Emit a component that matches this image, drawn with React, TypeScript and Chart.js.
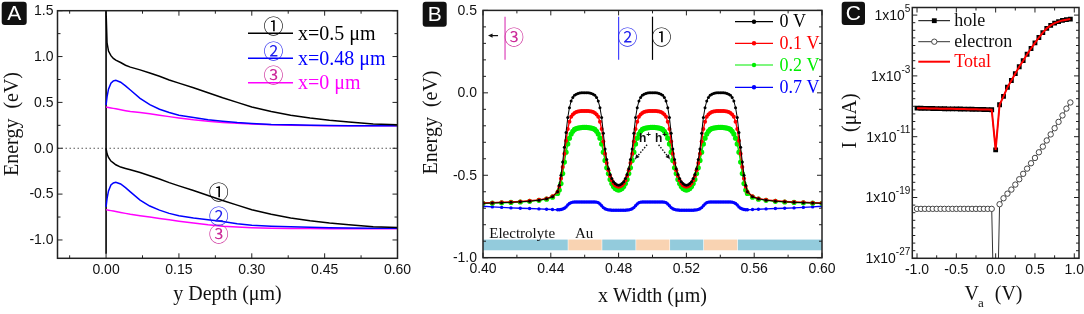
import React, { useEffect, useRef } from 'react';
import { Chart, registerables } from 'chart.js';
Chart.register(...registerables);

const SANS = '"Liberation Sans", Arial, Helvetica, sans-serif';
const SERIF = '"Liberation Serif", "Times New Roman", Times, serif';
const CIRC = '"Noto Sans CJK JP", "DejaVu Sans", sans-serif';

// ---------------- Panel A data ----------------
const yDepth = [0, 0.002, 0.005, 0.01, 0.015, 0.02, 0.03, 0.04, 0.05, 0.07, 0.09, 0.11, 0.13, 0.15, 0.18, 0.21, 0.24, 0.27, 0.3, 0.34, 0.38, 0.42, 0.46, 0.5, 0.55, 0.6];
const cbX05 = [1.5, 1.15, 1.06, 1.01, 0.98, 0.96, 0.935, 0.905, 0.885, 0.855, 0.82, 0.785, 0.745, 0.71, 0.66, 0.605, 0.55, 0.5, 0.45, 0.4, 0.36, 0.33, 0.305, 0.285, 0.265, 0.255];
const vbX05 = [0.0, -0.06, -0.1, -0.14, -0.16, -0.18, -0.205, -0.22, -0.235, -0.265, -0.3, -0.335, -0.375, -0.41, -0.46, -0.515, -0.57, -0.62, -0.67, -0.72, -0.76, -0.79, -0.815, -0.835, -0.855, -0.865];
const cbX048 = [0.47, 0.56, 0.645, 0.71, 0.735, 0.74, 0.72, 0.68, 0.635, 0.545, 0.475, 0.425, 0.39, 0.36, 0.335, 0.31, 0.295, 0.28, 0.27, 0.26, 0.255, 0.25, 0.248, 0.246, 0.245, 0.245];
const vbX048 = [-0.64, -0.55, -0.465, -0.4, -0.378, -0.372, -0.39, -0.43, -0.475, -0.565, -0.63, -0.675, -0.71, -0.735, -0.76, -0.78, -0.8, -0.823, -0.84, -0.85, -0.857, -0.862, -0.866, -0.869, -0.871, -0.872];
const cbX0 = [0.45, 0.448, 0.445, 0.44, 0.435, 0.43, 0.42, 0.41, 0.4, 0.39, 0.375, 0.36, 0.345, 0.33, 0.31, 0.295, 0.282, 0.272, 0.264, 0.256, 0.251, 0.248, 0.246, 0.245, 0.245, 0.245];
const vbX0 = [-0.67, -0.672, -0.675, -0.68, -0.685, -0.69, -0.7, -0.71, -0.72, -0.735, -0.75, -0.765, -0.78, -0.795, -0.815, -0.835, -0.85, -0.86, -0.867, -0.872, -0.875, -0.876, -0.877, -0.877, -0.877, -0.877];
const interfaceY = [0, 0];
const interfaceE = [-1.15, 1.5];
const zeroLineY = [-0.1, 0.6];
const zeroLineE = [0, 0];
const aXMajor = [0, 0.15, 0.3, 0.45, 0.6];
const aXMinor = [-0.075, 0.075, 0.225, 0.375, 0.525];
const aYMajor = [-1, -0.5, 0, 0.5, 1, 1.5];
const aYMinor = [-0.75, -0.25, 0.25, 0.75, 1.25];
const aLegendText = ['x=0.5 \u03bcm', 'x=0.48 \u03bcm', 'x=0 \u03bcm'];
const circled = ['\u2460', '\u2461', '\u2462'];
const aTagY = [0.232, 0.232, 0.232];
const aTagE = [-0.485, -0.739, -0.938];

// ---------------- Panel B data ----------------
const xWidth = [0.4, 0.4055, 0.411, 0.4165, 0.422, 0.4275, 0.433, 0.4375, 0.441,
  0.444, 0.445, 0.446, 0.447, 0.448, 0.449,
  0.45, 0.451, 0.452, 0.453, 0.454, 0.455, 0.456, 0.457, 0.458, 0.459, 0.46,
  0.461, 0.462, 0.463, 0.464, 0.465, 0.466, 0.467, 0.468, 0.469, 0.47,
  0.471, 0.472, 0.473, 0.474, 0.475, 0.476, 0.477, 0.478, 0.479, 0.48,
  0.481, 0.482, 0.483, 0.484, 0.485, 0.486, 0.487, 0.488, 0.489, 0.49,
  0.491, 0.492, 0.493, 0.494, 0.495, 0.496, 0.497, 0.498, 0.499, 0.5,
  0.501, 0.502, 0.503, 0.504, 0.505, 0.506, 0.507, 0.508, 0.509, 0.51,
  0.511, 0.512, 0.513, 0.514, 0.515, 0.516, 0.517, 0.518, 0.519, 0.52,
  0.521, 0.522, 0.523, 0.524, 0.525, 0.526, 0.527, 0.528, 0.529, 0.53,
  0.531, 0.532, 0.533, 0.534, 0.535, 0.536, 0.537, 0.538, 0.539, 0.54,
  0.541, 0.542, 0.543, 0.544, 0.545, 0.546, 0.547, 0.548, 0.549, 0.55,
  0.551, 0.552, 0.553, 0.554, 0.555, 0.556,
  0.559, 0.5625, 0.567, 0.5725, 0.578, 0.5835, 0.589, 0.5945, 0.6];
const e0V = [-0.67, -0.668, -0.666, -0.664, -0.661, -0.657, -0.651, -0.643, -0.63,
  -0.6, -0.56, -0.5, -0.42, -0.33, -0.24,
  -0.15, -0.09, -0.05, -0.028, -0.015, -0.008, -0.004, -0.001, 0, 0, 0,
  0, 0, -0.001, -0.004, -0.008, -0.015, -0.028, -0.05, -0.09, -0.15,
  -0.245, -0.34, -0.405, -0.46, -0.495, -0.52, -0.54, -0.55, -0.557, -0.56,
  -0.557, -0.55, -0.54, -0.52, -0.495, -0.46, -0.405, -0.34, -0.245, -0.15,
  -0.09, -0.05, -0.028, -0.015, -0.008, -0.004, -0.001, 0, 0, 0,
  0, 0, -0.001, -0.004, -0.008, -0.015, -0.028, -0.05, -0.09, -0.15,
  -0.245, -0.34, -0.405, -0.46, -0.495, -0.52, -0.54, -0.55, -0.557, -0.56,
  -0.557, -0.55, -0.54, -0.52, -0.495, -0.46, -0.405, -0.34, -0.245, -0.15,
  -0.09, -0.05, -0.028, -0.015, -0.008, -0.004, -0.001, 0, 0, 0,
  0, 0, -0.001, -0.004, -0.008, -0.015, -0.028, -0.05, -0.09, -0.15,
  -0.24, -0.33, -0.42, -0.5, -0.56, -0.6,
  -0.63, -0.643, -0.651, -0.657, -0.661, -0.664, -0.666, -0.668, -0.67];
const e01V = [-0.668, -0.666, -0.664, -0.662, -0.659, -0.655, -0.649, -0.641, -0.628,
  -0.6, -0.57, -0.52, -0.45, -0.37, -0.29,
  -0.22, -0.175, -0.145, -0.131, -0.122, -0.117, -0.113, -0.111, -0.11, -0.11, -0.11,
  -0.11, -0.11, -0.111, -0.113, -0.117, -0.122, -0.131, -0.145, -0.175, -0.22,
  -0.295, -0.37, -0.425, -0.47, -0.505, -0.53, -0.548, -0.56, -0.567, -0.57,
  -0.567, -0.56, -0.548, -0.53, -0.505, -0.47, -0.425, -0.37, -0.295, -0.22,
  -0.175, -0.145, -0.131, -0.122, -0.117, -0.113, -0.111, -0.11, -0.11, -0.11,
  -0.11, -0.11, -0.111, -0.113, -0.117, -0.122, -0.131, -0.145, -0.175, -0.22,
  -0.295, -0.37, -0.425, -0.47, -0.505, -0.53, -0.548, -0.56, -0.567, -0.57,
  -0.567, -0.56, -0.548, -0.53, -0.505, -0.47, -0.425, -0.37, -0.295, -0.22,
  -0.175, -0.145, -0.131, -0.122, -0.117, -0.113, -0.111, -0.11, -0.11, -0.11,
  -0.11, -0.11, -0.111, -0.113, -0.117, -0.122, -0.131, -0.145, -0.175, -0.22,
  -0.29, -0.37, -0.45, -0.52, -0.57, -0.6,
  -0.628, -0.641, -0.649, -0.655, -0.659, -0.662, -0.664, -0.666, -0.668];
const e02V = [-0.67, -0.669, -0.667, -0.665, -0.662, -0.658, -0.652, -0.645, -0.633,
  -0.61, -0.59, -0.55, -0.49, -0.42, -0.36,
  -0.31, -0.275, -0.25, -0.233, -0.222, -0.217, -0.214, -0.212, -0.211, -0.21, -0.21,
  -0.21, -0.211, -0.212, -0.214, -0.217, -0.222, -0.233, -0.25, -0.275, -0.31,
  -0.36, -0.41, -0.455, -0.49, -0.525, -0.55, -0.568, -0.58, -0.587, -0.59,
  -0.587, -0.58, -0.568, -0.55, -0.525, -0.49, -0.455, -0.41, -0.36, -0.31,
  -0.275, -0.25, -0.233, -0.222, -0.217, -0.214, -0.212, -0.211, -0.21, -0.21,
  -0.21, -0.211, -0.212, -0.214, -0.217, -0.222, -0.233, -0.25, -0.275, -0.31,
  -0.36, -0.41, -0.455, -0.49, -0.525, -0.55, -0.568, -0.58, -0.587, -0.59,
  -0.587, -0.58, -0.568, -0.55, -0.525, -0.49, -0.455, -0.41, -0.36, -0.31,
  -0.275, -0.25, -0.233, -0.222, -0.217, -0.214, -0.212, -0.211, -0.21, -0.21,
  -0.21, -0.211, -0.212, -0.214, -0.217, -0.222, -0.233, -0.25, -0.275, -0.31,
  -0.36, -0.42, -0.49, -0.55, -0.59, -0.61,
  -0.633, -0.645, -0.652, -0.658, -0.662, -0.665, -0.667, -0.669, -0.67];
const e07V = [-0.688, -0.692, -0.695, -0.698, -0.7, -0.702, -0.704, -0.706, -0.708,
  -0.709, -0.709, -0.708, -0.705, -0.7, -0.692,
  -0.68, -0.671, -0.666, -0.663, -0.662, -0.662, -0.662, -0.662, -0.662, -0.662, -0.662,
  -0.662, -0.662, -0.662, -0.662, -0.662, -0.662, -0.663, -0.666, -0.674, -0.685,
  -0.696, -0.703, -0.707, -0.71, -0.711, -0.712, -0.712, -0.712, -0.712, -0.712,
  -0.712, -0.712, -0.712, -0.712, -0.711, -0.71, -0.707, -0.703, -0.696, -0.685,
  -0.674, -0.666, -0.663, -0.662, -0.662, -0.662, -0.662, -0.662, -0.662, -0.662,
  -0.662, -0.662, -0.662, -0.662, -0.662, -0.662, -0.663, -0.666, -0.674, -0.685,
  -0.696, -0.703, -0.707, -0.71, -0.711, -0.712, -0.712, -0.712, -0.712, -0.712,
  -0.712, -0.712, -0.712, -0.712, -0.711, -0.71, -0.707, -0.703, -0.696, -0.685,
  -0.674, -0.666, -0.663, -0.662, -0.662, -0.662, -0.662, -0.662, -0.662, -0.662,
  -0.662, -0.662, -0.662, -0.662, -0.662, -0.662, -0.663, -0.666, -0.671, -0.68,
  -0.692, -0.7, -0.705, -0.708, -0.709, -0.709,
  -0.708, -0.706, -0.704, -0.702, -0.7, -0.698, -0.695, -0.692, -0.688];
const biasLabels = ['0 V', '0.1 V', '0.2 V', '0.7 V'];
const biasColors = ['#000000', '#ff0000', '#00ee00', '#0000ff'];
const biasRadius = [1.5, 2.0, 2.6, 1.7];
const regionEdges = [0.4, 0.45, 0.47, 0.49, 0.51, 0.53, 0.55, 0.6];
const regionIsAu = [false, true, false, true, false, true, false];
const stripE = [-0.89, -0.955];
const regionNames = ['Electrolyte', 'Au'];
const regionNameX = [0.4037, 0.4543];
const regionNameE = -0.855;
const cutX = [0.413, 0.48, 0.5];
const cutE = [0.462, 0.2];
const cutTags = ['\u2462', '\u2461', '\u2460'];
const cutColors = ['#dd44bb', '#4444ff', '#000000'];
const cutTagColors = ['#cc2a99', '#2222ee', '#000000'];
const bXMajor = [0.4, 0.44, 0.48, 0.52, 0.56, 0.6];
const bXMinor = [0.42, 0.46, 0.5, 0.54, 0.58];
const bYMajor = [-1, -0.5, 0, 0.5];
const bYMinor = [-0.9, -0.8, -0.7, -0.6, -0.4, -0.3, -0.2, -0.1, 0.1, 0.2, 0.3, 0.4];
const holeTextX = 0.4997;
const holeTextE = -0.28;
const holeArrowFrom = [[0.4968, -0.315], [0.5036, -0.315]];
const holeArrowTo = [[0.4897, -0.402], [0.5103, -0.402]];

// ---------------- Panel C data ----------------
const va = [-1.0, -0.95, -0.9, -0.85, -0.8, -0.75, -0.7, -0.65, -0.6, -0.55, -0.5, -0.45, -0.4, -0.35, -0.3, -0.25, -0.2, -0.15, -0.1, -0.05,
  0.0, 0.05, 0.1, 0.15, 0.2, 0.25, 0.3, 0.35, 0.4, 0.45, 0.5, 0.55, 0.6, 0.65, 0.7, 0.75, 0.8, 0.85, 0.9, 0.95];
const iHole = [5.6e-8, 5.5e-8, 5.4e-8, 5.2e-8, 5.1e-8, 5.0e-8, 4.9e-8, 4.8e-8, 4.7e-8, 4.6e-8, 4.5e-8, 4.4e-8, 4.3e-8, 4.2e-8, 4.1e-8, 4.0e-8, 3.9e-8, 3.8e-8, 3.7e-8, 3.5e-8,
  1.8e-13, 1.6e-7, 2.0e-6, 3.2e-5, 2.5e-4, 2.0e-3, 1.6e-2, 0.1, 0.71, 4.0, 22, 112, 500, 1800, 4500, 8900, 14000, 20000, 25000, 30000];
const iElectron = [3.2e-21, 3.2e-21, 3.2e-21, 3.2e-21, 3.2e-21, 3.2e-21, 3.2e-21, 3.2e-21, 3.2e-21, 3.2e-21, 3.2e-21, 3.2e-21, 3.2e-21, 3.2e-21, 3.2e-21, 3.2e-21, 3.2e-21, 3.2e-21, 3.2e-21, 3.2e-21,
  1e-45, 1.3e-20, 7.9e-20, 3.2e-19, 1.1e-18, 5.0e-18, 2.5e-17, 1.3e-16, 6.3e-16, 3.2e-15, 1.6e-14, 8.9e-14, 5.0e-13, 3.2e-12, 2.0e-11, 1.3e-10, 8.9e-10, 6.3e-9, 5.0e-8, 3.2e-7];
const iTotal = [5.6e-8, 5.5e-8, 5.4e-8, 5.2e-8, 5.1e-8, 5.0e-8, 4.9e-8, 4.8e-8, 4.7e-8, 4.6e-8, 4.5e-8, 4.4e-8, 4.3e-8, 4.2e-8, 4.1e-8, 4.0e-8, 3.9e-8, 3.8e-8, 3.7e-8, 3.5e-8,
  1.8e-13, 1.6e-7, 2.0e-6, 3.2e-5, 2.5e-4, 2.0e-3, 1.6e-2, 0.1, 0.71, 4.0, 22, 112, 500, 1800, 4500, 8900, 14000, 20000, 25000, 30000];
const cSeriesNames = ['hole', 'electron', 'Total'];
const cXMajor = [-1, -0.5, 0, 0.5, 1];
const cXMinor = [-0.75, -0.25, 0.25, 0.75];
const cYMajor = [1e5, 1e-3, 1e-11, 1e-19, 1e-27];
const cYExp = ['5', '-3', '-11', '-19', '-27'];
const cYMinor = [1e-26, 1e-25, 1e-24, 1e-23, 1e-22, 1e-21, 1e-20, 1e-18, 1e-17, 1e-16, 1e-15, 1e-14, 1e-13, 1e-12,
  1e-10, 1e-9, 1e-8, 1e-7, 1e-6, 1e-5, 1e-4, 1e-2, 1e-1, 1, 10, 100, 1000, 1e4];

// ---------------- helpers ----------------
function seg(ctx: any, x1: number, y1: number, x2: number, y2: number) {
  ctx.beginPath(); ctx.moveTo(x1, y1); ctx.lineTo(x2, y2); ctx.stroke();
}

function drawAxes(chart: any, cfg: any) {
  const { ctx, chartArea: a } = chart;
  const xs = chart.scales.x, ys = chart.scales.y;
  ctx.save();
  ctx.strokeStyle = '#222';
  ctx.lineWidth = 1;
  const MAJ = 5, MIN = 3;
  cfg.xMajor.forEach((v: number) => { const p = xs.getPixelForValue(v); seg(ctx, p, a.bottom, p, a.bottom - MAJ); seg(ctx, p, a.top, p, a.top + MAJ); });
  cfg.xMinor.forEach((v: number) => { const p = xs.getPixelForValue(v); seg(ctx, p, a.bottom, p, a.bottom - MIN); seg(ctx, p, a.top, p, a.top + MIN); });
  cfg.yMajor.forEach((v: number) => { const p = ys.getPixelForValue(v); seg(ctx, a.left, p, a.left + MAJ, p); seg(ctx, a.right, p, a.right - MAJ, p); });
  cfg.yMinor.forEach((v: number) => { const p = ys.getPixelForValue(v); seg(ctx, a.left, p, a.left + MIN, p); seg(ctx, a.right, p, a.right - MIN, p); });
  ctx.lineWidth = 1.5;
  ctx.strokeRect(a.left, a.top, a.right - a.left, a.bottom - a.top);
  ctx.fillStyle = '#111';
  ctx.font = `14px ${SANS}`;
  ctx.textAlign = 'center';
  ctx.textBaseline = 'middle';
  cfg.xMajor.forEach((v: number) => ctx.fillText(cfg.xFmt(v), xs.getPixelForValue(v), a.bottom + 11.5));
  if (cfg.yFmt) {
    ctx.textAlign = 'right';
    cfg.yMajor.forEach((v: number) => ctx.fillText(cfg.yFmt(v), a.left - cfg.yGap, ys.getPixelForValue(v) + 0.5));
  }
  ctx.restore();
}

function drawText(ctx: any, text: string, x: number, y: number, font: string, color: string, rotate = false, align = 'center') {
  ctx.save();
  ctx.font = font;
  ctx.fillStyle = color;
  ctx.textAlign = align;
  ctx.textBaseline = 'middle';
  ctx.translate(x, y);
  if (rotate) ctx.rotate(-Math.PI / 2);
  ctx.fillText(text, 0, 0);
  ctx.restore();
}

function drawLetter(ctx: any, letter: string, x: number, y: number, w: number, h: number) {
  ctx.save();
  ctx.fillStyle = '#111';
  ctx.beginPath();
  const r = 3;
  ctx.moveTo(x + r, y); ctx.lineTo(x + w - r, y); ctx.quadraticCurveTo(x + w, y, x + w, y + r);
  ctx.lineTo(x + w, y + h - r); ctx.quadraticCurveTo(x + w, y + h, x + w - r, y + h);
  ctx.lineTo(x + r, y + h); ctx.quadraticCurveTo(x, y + h, x, y + h - r);
  ctx.lineTo(x, y + r); ctx.quadraticCurveTo(x, y, x + r, y);
  ctx.fill();
  ctx.fillStyle = '#fff';
  ctx.font = `21px ${SANS}`;
  ctx.textAlign = 'center';
  ctx.textBaseline = 'middle';
  ctx.fillText(letter, x + w / 2, y + h / 2 + 1);
  ctx.restore();
}

function arrowHead(ctx: any, x1: number, y1: number, x2: number, y2: number, size: number) {
  const ang = Math.atan2(y2 - y1, x2 - x1);
  ctx.beginPath();
  ctx.moveTo(x2, y2);
  ctx.lineTo(x2 - size * Math.cos(ang - 0.45), y2 - size * Math.sin(ang - 0.45));
  ctx.lineTo(x2 - size * Math.cos(ang + 0.45), y2 - size * Math.sin(ang + 0.45));
  ctx.closePath();
  ctx.fill();
}

const baseOptions = (padding: any, xScale: any, yScale: any) => ({
  animation: false,
  responsive: false,
  maintainAspectRatio: false,
  layout: { padding },
  plugins: { legend: { display: false }, tooltip: { enabled: false } },
  elements: { line: { tension: 0 } },
  scales: { x: xScale, y: yScale },
});

const hiddenScale = (extra: any) => ({
  grid: { display: false },
  border: { display: false },
  ticks: { display: false },
  title: { display: false },
  ...extra,
});

// ---------------- Panel A ----------------
function makeA(canvas: HTMLCanvasElement) {
  const pts = (xs: number[], ys: number[]) => xs.map((x, i) => ({ x, y: ys[i] }));
  const ds = (data: any, color: string, width = 1.5, extra: any = {}) => ({
    data, borderColor: color, backgroundColor: color, borderWidth: width, pointRadius: 0, fill: false, ...extra,
  });
  return new Chart(canvas, {
    type: 'line',
    data: {
      datasets: [
        ds(pts(yDepth, cbX05), '#000000'),
        ds(pts(yDepth, vbX05), '#000000'),
        ds(pts(yDepth, cbX048), '#0000ff'),
        ds(pts(yDepth, vbX048), '#0000ff'),
        ds(pts(yDepth, cbX0), '#ff00ff'),
        ds(pts(yDepth, vbX0), '#ff00ff'),
        ds(pts(interfaceY, interfaceE), '#000000', 1.6),
        ds(pts(zeroLineY, zeroLineE), '#555555', 1, { borderDash: [1.5, 2.5] }),
      ],
    } as any,
    options: baseOptions(
      { left: 0, top: 10.7, right: 22.5, bottom: 0 },
      hiddenScale({ type: 'linear', min: -0.1, max: 0.6, afterFit: (s: any) => { s.height = 55.7; } }),
      hiddenScale({ type: 'linear', min: -1.2, max: 1.5, afterFit: (s: any) => { s.width = 57.5; } }),
    ) as any,
    plugins: [{
      id: 'decorA',
      afterDatasetsDraw(chart: any) {
        const { ctx } = chart;
        const xs = chart.scales.x, ys = chart.scales.y;
        drawAxes(chart, {
          xMajor: aXMajor, xMinor: aXMinor, yMajor: aYMajor, yMinor: aYMinor,
          xFmt: (v: number) => v.toFixed(2), yFmt: (v: number) => v.toFixed(1), yGap: 4,
        });
        const colors = ['#000000', '#0000ff', '#ff00ff'];
        const tagColors = ['#000000', '#2222ee', '#cc2a99'];
        const rows = [33.3, 58.3, 82.7];
        rows.forEach((ry, i) => {
          ctx.save();
          ctx.strokeStyle = colors[i];
          ctx.lineWidth = 1.5;
          seg(ctx, 248, ry, 293, ry);
          ctx.restore();
          drawText(ctx, circled[i], 273.5, ry - 7, `20px ${CIRC}`, tagColors[i]);
          drawText(ctx, aLegendText[i], 298, ry + 1.5, `20px ${SERIF}`, colors[i], false, 'left');
        });
        aTagY.forEach((x, i) => {
          drawText(ctx, circled[i], xs.getPixelForValue(x), ys.getPixelForValue(aTagE[i]), `20px ${CIRC}`, tagColors[i]);
        });
        drawText(ctx, 'Energy  (eV)', 13, 124, `20px ${SERIF}`, '#111', true);
        drawText(ctx, 'y Depth (\u03bcm)', 227.5, 295, `20px ${SERIF}`, '#111');
        drawLetter(ctx, 'A', 1.7, 1.7, 25, 23.3);
      },
    }],
  } as any);
}

// ---------------- Panel B ----------------
function makeB(canvas: HTMLCanvasElement) {
  const series = [e0V, e01V, e02V, e07V];
  const datasets = series.map((ys, i) => ({
    data: xWidth.map((x, j) => ({ x, y: ys[j] })),
    borderColor: biasColors[i],
    backgroundColor: biasColors[i],
    borderWidth: i === 0 ? 1 : 1.4,
    pointRadius: biasRadius[i],
    pointBackgroundColor: biasColors[i],
    pointBorderWidth: 0,
    fill: false,
  }));
  return new Chart(canvas, {
    type: 'line',
    data: { datasets } as any,
    options: baseOptions(
      { left: 0, top: 10.4, right: 13, bottom: 0 },
      hiddenScale({ type: 'linear', min: 0.4, max: 0.6, afterFit: (s: any) => { s.height = 56.3; } }),
      hiddenScale({ type: 'linear', min: -1.0, max: 0.5, afterFit: (s: any) => { s.width = 78; } }),
    ) as any,
    plugins: [{
      id: 'decorB',
      afterDatasetsDraw(chart: any) {
        const { ctx } = chart;
        const xs = chart.scales.x, ys = chart.scales.y;
        const y1 = ys.getPixelForValue(stripE[0]);
        const y2 = ys.getPixelForValue(stripE[1]);
        for (let i = 0; i < regionIsAu.length; i++) {
          const x1 = xs.getPixelForValue(regionEdges[i]);
          const x2 = xs.getPixelForValue(regionEdges[i + 1]);
          ctx.fillStyle = regionIsAu[i] ? '#f9d3b2' : '#93cbdc';
          ctx.fillRect(x1 + (i > 0 ? 0.6 : 0), y1, x2 - x1 - (i > 0 ? 0.6 : 0), y2 - y1);
        }
        regionNames.forEach((n, i) => drawText(ctx, n, xs.getPixelForValue(regionNameX[i]), ys.getPixelForValue(regionNameE), `15px ${SERIF}`, '#111', false, 'left'));
        cutX.forEach((x, i) => {
          const px = xs.getPixelForValue(x);
          ctx.save();
          ctx.strokeStyle = cutColors[i];
          ctx.lineWidth = 1.2;
          seg(ctx, px, ys.getPixelForValue(cutE[0]), px, ys.getPixelForValue(cutE[1]));
          ctx.restore();
          drawText(ctx, cutTags[i], px + 9, ys.getPixelForValue(0.335), `20px ${CIRC}`, cutTagColors[i]);
        });
        {
          const px = xs.getPixelForValue(cutX[0]);
          const py = ys.getPixelForValue(0.347);
          ctx.save();
          ctx.strokeStyle = '#111'; ctx.fillStyle = '#111'; ctx.lineWidth = 1.2;
          seg(ctx, px - 7, py, px - 14, py);
          arrowHead(ctx, px - 7, py, px - 17, py, 5);
          ctx.restore();
        }
        {
          const hx = xs.getPixelForValue(holeTextX);
          const hy = ys.getPixelForValue(holeTextE);
          ctx.save();
          ctx.fillStyle = '#111';
          ctx.textBaseline = 'middle';
          ctx.textAlign = 'left';
          ctx.font = `bold 12px ${SANS}`;
          const wH = ctx.measureText('h').width;
          [hx - 13, hx + 3].forEach((sx) => {
            ctx.font = `bold 12px ${SANS}`;
            ctx.fillText('h', sx, hy);
            ctx.font = `bold 8px ${SANS}`;
            ctx.fillText('+', sx + wH, hy - 4);
          });
          ctx.strokeStyle = '#111';
          ctx.lineWidth = 1.4;
          holeArrowFrom.forEach((f, i) => {
            const x1 = xs.getPixelForValue(f[0]), yy1 = ys.getPixelForValue(f[1]);
            const x2 = xs.getPixelForValue(holeArrowTo[i][0]), yy2 = ys.getPixelForValue(holeArrowTo[i][1]);
            ctx.setLineDash([1.5, 1.5]);
            seg(ctx, x1, yy1, x2, yy2);
            ctx.setLineDash([]);
            arrowHead(ctx, x1, yy1, x2, yy2, 5);
          });
          ctx.restore();
        }
        const rows = [21.7, 43.3, 65, 87.3];
        rows.forEach((ry, i) => {
          ctx.save();
          ctx.strokeStyle = biasColors[i];
          ctx.fillStyle = biasColors[i];
          ctx.lineWidth = 1.2;
          seg(ctx, 330, ry, 368, ry);
          ctx.beginPath();
          ctx.arc(349, ry, 2.2, 0, Math.PI * 2);
          ctx.fill();
          ctx.restore();
          drawText(ctx, biasLabels[i], 374.5, ry + 1, `18px ${SERIF}`, biasColors[i], false, 'left');
        });
        drawAxes(chart, {
          xMajor: bXMajor, xMinor: bXMinor, yMajor: bYMajor, yMinor: bYMinor,
          xFmt: (v: number) => v.toFixed(2), yFmt: (v: number) => v.toFixed(1), yGap: 6,
        });
        drawText(ctx, 'Energy  (eV)', 27, 122.5, `20px ${SERIF}`, '#111', true);
        drawText(ctx, 'x Width (\u03bcm)', 247.5, 296.7, `20px ${SERIF}`, '#111');
        drawLetter(ctx, 'B', 17.7, 1.7, 24, 25);
      },
    }],
  } as any);
}

// ---------------- Panel C ----------------
function makeC(canvas: HTMLCanvasElement) {
  const pts = (ys: number[]) => va.map((x, i) => ({ x, y: ys[i] }));
  return new Chart(canvas, {
    type: 'line',
    data: {
      datasets: [
        {
          data: pts(iHole), borderColor: '#000000', borderWidth: 1, pointStyle: 'rect', pointRadius: 3.4,
          pointBackgroundColor: '#000000', pointBorderWidth: 0, fill: false, order: 1,
        },
        {
          data: pts(iElectron), borderColor: '#333333', borderWidth: 1, pointStyle: 'circle', pointRadius: 2.7,
          pointBackgroundColor: '#ffffff', pointBorderColor: '#444444', pointBorderWidth: 1, fill: false, order: 2,
        },
        {
          data: pts(iTotal), borderColor: '#ff0000', borderWidth: 2, pointRadius: 0, fill: false, order: 0,
        },
      ],
    } as any,
    options: baseOptions(
      { left: 0, top: 7.5, right: 5, bottom: 0 },
      hiddenScale({ type: 'linear', min: -1.06, max: 1.06, afterFit: (s: any) => { s.height = 55.7; } }),
      hiddenScale({ type: 'logarithmic', min: 1e-27, max: 1e6, afterFit: (s: any) => { s.width = 82.3; } }),
    ) as any,
    plugins: [{
      id: 'decorC',
      afterDatasetsDraw(chart: any) {
        const { ctx, chartArea: a } = chart;
        const ys = chart.scales.y;
        drawAxes(chart, {
          xMajor: cXMajor, xMinor: cXMinor, yMajor: cYMajor, yMinor: cYMinor,
          xFmt: (v: number) => v.toFixed(1), yFmt: null, yGap: 2,
        });
        ctx.save();
        ctx.fillStyle = '#111';
        ctx.textBaseline = 'middle';
        cYMajor.forEach((v, i) => {
          const p = ys.getPixelForValue(v);
          const right = a.left - 2;
          ctx.font = `10px ${SANS}`;
          const ew = ctx.measureText(cYExp[i]).width;
          ctx.textAlign = 'left';
          ctx.fillText(cYExp[i], right - ew, p - 6);
          ctx.font = `14px ${SANS}`;
          ctx.textAlign = 'right';
          ctx.fillText('1x10', right - ew, p + 1);
        });
        ctx.restore();
        const rows = [20.7, 41.7, 61.7];
        ctx.save();
        ctx.strokeStyle = '#000'; ctx.lineWidth = 1;
        seg(ctx, 88.3, rows[0], 120, rows[0]);
        ctx.fillStyle = '#000';
        ctx.fillRect(104.3 - 2.4, rows[0] - 2.4, 4.8, 4.8);
        ctx.strokeStyle = '#333';
        seg(ctx, 88.3, rows[1], 120, rows[1]);
        ctx.fillStyle = '#fff'; ctx.strokeStyle = '#444';
        ctx.beginPath(); ctx.arc(104.3, rows[1], 2.7, 0, Math.PI * 2); ctx.fill(); ctx.stroke();
        ctx.strokeStyle = '#ff0000'; ctx.lineWidth = 2;
        seg(ctx, 88.3, rows[2], 120, rows[2]);
        ctx.restore();
        const lc = ['#111', '#111', '#ff0000'];
        cSeriesNames.forEach((n, i) => drawText(ctx, n, 124.3, rows[i] + 1, `18px ${SERIF}`, lc[i], false, 'left'));
        drawText(ctx, 'I  (\u03bcA)', 21, 121, `20px ${SERIF}`, '#111', true);
        ctx.save();
        ctx.fillStyle = '#111';
        ctx.textBaseline = 'alphabetic';
        ctx.textAlign = 'left';
        ctx.font = `20px ${SERIF}`;
        const wV = ctx.measureText('V').width;
        const wRest = ctx.measureText('(V)').width;
        ctx.font = `13px ${SERIF}`;
        const wa = ctx.measureText('a').width;
        const total = wV + wa + 10 + wRest;
        const x0 = 163.5 - total / 2;
        ctx.font = `20px ${SERIF}`;
        ctx.fillText('V', x0, 300);
        ctx.fillText('(V)', x0 + wV + wa + 10, 300);
        ctx.font = `13px ${SERIF}`;
        ctx.fillText('a', x0 + wV - 1, 307);
        ctx.restore();
        drawLetter(ctx, 'C', 11.7, 1.7, 23.3, 23.3);
      },
    }],
  } as any);
}

export default function App() {
  const refA = useRef<HTMLCanvasElement>(null);
  const refB = useRef<HTMLCanvasElement>(null);
  const refC = useRef<HTMLCanvasElement>(null);
  useEffect(() => {
    const charts = [makeA(refA.current!), makeB(refB.current!), makeC(refC.current!)];
    return () => charts.forEach((c) => c.destroy());
  }, []);
  const cs = (left: number, width: number) => ({ position: 'absolute' as const, left, top: 0, width, height: 314 });
  return (
    <div style={{ position: 'absolute', left: 0, top: 0, width: 1084, height: 314, overflow: 'hidden', background: '#ffffff' }}>
      <canvas ref={refA} width={420} height={314} style={cs(0, 420)} />
      <canvas ref={refB} width={430} height={314} style={cs(405, 430)} />
      <canvas ref={refC} width={254} height={314} style={cs(830, 254)} />
    </div>
  );
}
